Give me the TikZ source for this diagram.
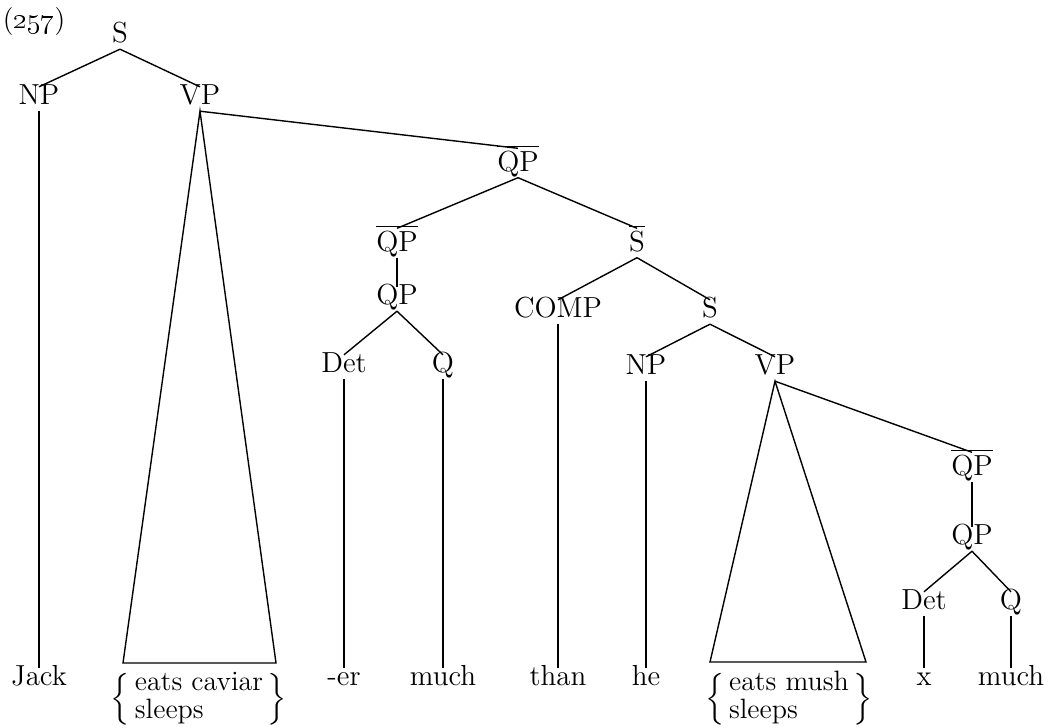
\documentclass[tikz,border=0pt]{standalone}
\usepackage{amsmath}
\usepackage{tikz}
\usetikzlibrary{positioning}

\newcommand{\barcat}[1]{$\overline{\hbox{#1}}$}

\begin{document}
\begin{tikzpicture}[
    x=0.5pt, y=-0.5pt,
    line width=0.7pt,
    cat/.style={font=\fontsize{14.5}{16}\selectfont, inner sep=1.5pt, text height=0.7em, text depth=0.15em},
    barcat/.style={cat, text height=0.95em},
    leaf/.style={cat},
    alt/.style={font=\fontsize{14}{13.5}\selectfont, inner sep=0pt}
]
\useasboundingbox (0,0) rectangle (1056,728);

% example number
\node[font=\fontsize{14}{16}\selectfont] (num) at (34,22) {(\oldstylenums{257})};

% --- Main clause ---
\node[cat] (S) at (120,37) {S};
\node[cat] (NP) at (39,99) {NP};
\node[cat] (VP) at (200,99) {VP};

% --- Comparative QP ---
\node[barcat] (QPa) at (518,163) {\barcat{QP}};
\node[barcat] (QPb) at (397,243) {\barcat{QP}};
\node[barcat] (Sbar) at (637,243) {\barcat{S}};
\node[cat] (QPc) at (397,299) {QP};
\node[cat] (Det1) at (344,367) {Det};
\node[cat] (Q1) at (443,367) {Q};

% --- Embedded clause ---
\node[cat] (COMP) at (558,312) {COMP};
\node[cat] (S2) at (710,312) {S};
\node[cat] (NP2) at (646,369) {NP};
\node[cat] (VP2) at (775,369) {VP};
\node[barcat] (QPd) at (972,467) {\barcat{QP}};
\node[cat] (QPe) at (972,539) {QP};
\node[cat] (Det2) at (924,604) {Det};
\node[cat] (Q2) at (1011,604) {Q};

% --- Terminals ---
\node[leaf] (Jack) at (39,680) {Jack};
\node[alt] (caviar) at (199,699) {$\left\{\,\begin{tabular}{@{}l@{}}eats caviar\\sleeps\end{tabular}\,\right\}$};
\node[leaf] (er) at (344,680) {-er};
\node[leaf] (much1) at (443,680) {much};
\node[leaf] (than) at (558,680) {than};
\node[leaf] (he) at (646,680) {he};
\node[alt] (mush) at (789,699) {$\left\{\,\begin{tabular}{@{}l@{}}eats mush\\sleeps\end{tabular}\,\right\}$};
\node[leaf] (x) at (924,680) {x};
\node[leaf] (much2) at (1011,680) {much};

% triangle bases
\coordinate (cavL) at (123,663);
\coordinate (cavR) at (276,663);
\coordinate (mushL) at (710,662);
\coordinate (mushR) at (866,662);

% Branches
\draw (S.south) -- (NP.north);
\draw (S.south) -- (VP.north);
\draw (NP.south) -- (Jack.north);
\draw (VP.south) -- (cavL) -- (cavR) -- cycle;
\draw (VP.south) -- (QPa.north);
\draw (QPa.south) -- (QPb.north);
\draw (QPa.south) -- (Sbar.north);
\draw (QPb.south) -- (QPc.north);
\draw (QPc.south) -- (Det1.north);
\draw (QPc.south) -- (Q1.north);
\draw (Det1.south) -- (er.north);
\draw (Q1.south) -- (much1.north);
\draw (Sbar.south) -- (COMP.north);
\draw (Sbar.south) -- (S2.north);
\draw (COMP.south) -- (than.north);
\draw (S2.south) -- (NP2.north);
\draw (S2.south) -- (VP2.north);
\draw (NP2.south) -- (he.north);
\draw (VP2.south) -- (mushL) -- (mushR) -- cycle;
\draw (VP2.south) -- (QPd.north);
\draw (QPd.south) -- (QPe.north);
\draw (QPe.south) -- (Det2.north);
\draw (QPe.south) -- (Q2.north);
\draw (Det2.south) -- (x.north);
\draw (Q2.south) -- (much2.north);

\end{tikzpicture}
\end{document}
